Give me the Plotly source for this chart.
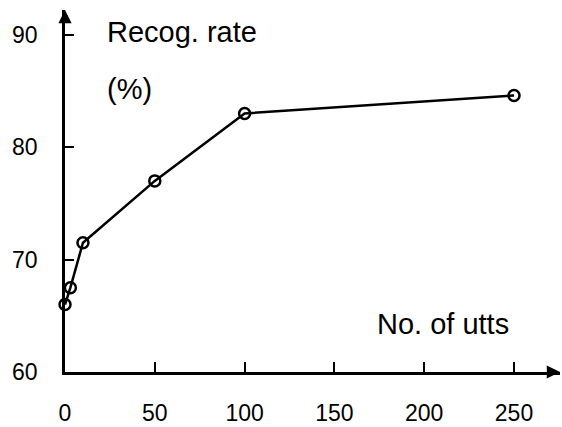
import plotly.graph_objects as go

utts = [0, 3, 10, 50, 100, 250]
rate = [66.0, 67.5, 71.5, 77.0, 83.0, 84.6]
x_ticks = [0, 50, 100, 150, 200, 250]
y_ticks = [60, 70, 80, 90]

X_MAX = 275.6
Y_MAX = 92.2

fig = go.Figure()
fig.add_trace(go.Scatter(
    x=utts, y=rate, mode="lines+markers",
    line=dict(color="black", width=2.5),
    marker=dict(symbol="circle-open", size=11, color="black", line=dict(width=2.5, color="black")),
    cliponaxis=False, showlegend=False,
))

label_font = dict(family="Liberation Sans, Arial, Helvetica", size=29, color="black")
tick_font = dict(family="Liberation Sans, Arial, Helvetica", size=23, color="black")

fig.update_layout(
    width=562, height=427,
    margin=dict(l=65, r=2, t=10, b=55),
    paper_bgcolor="white", plot_bgcolor="white",
    xaxis=dict(range=[0, X_MAX], tickvals=x_ticks, ticks="inside", ticklen=10, tickwidth=2,
               tickcolor="black", showline=True, linecolor="black", linewidth=2.5,
               showgrid=False, zeroline=False, tickfont=tick_font, ticklabelstandoff=19,
               automargin=False),
    yaxis=dict(range=[60, Y_MAX], tickvals=y_ticks, ticks="inside", ticklen=9, tickwidth=2,
               tickcolor="black", showline=True, linecolor="black", linewidth=2.5,
               showgrid=False, zeroline=False, tickfont=tick_font, ticklabelstandoff=20,
               automargin=False),
    annotations=[
        dict(x=X_MAX, y=60, ax=X_MAX - 8, ay=60, xref="x", yref="y", axref="x", ayref="y",
             text="", showarrow=True, arrowhead=2, arrowsize=1.2, arrowwidth=2.2, arrowcolor="black"),
        dict(x=0, y=Y_MAX, ax=0, ay=Y_MAX - 1, xref="x", yref="y", axref="x", ayref="y",
             text="", showarrow=True, arrowhead=2, arrowsize=1.2, arrowwidth=2.2, arrowcolor="black"),
        dict(x=22.3, y=90.28, xref="x", yref="y", text="Recog. rate", showarrow=False,
             xanchor="left", yanchor="middle", font=label_font),
        dict(x=22.3, y=85.2, xref="x", yref="y", text="(%)", showarrow=False,
             xanchor="left", yanchor="middle", font=label_font),
        dict(x=172.6, y=64.27, xref="x", yref="y", text="No. of utts", showarrow=False,
             xanchor="left", yanchor="middle", font=label_font),
    ],
)

fig.write_html(
    "out.html",
    config={"displayModeBar": False},
    post_script="document.body.style.margin='0';document.body.style.overflow='hidden';",
)
